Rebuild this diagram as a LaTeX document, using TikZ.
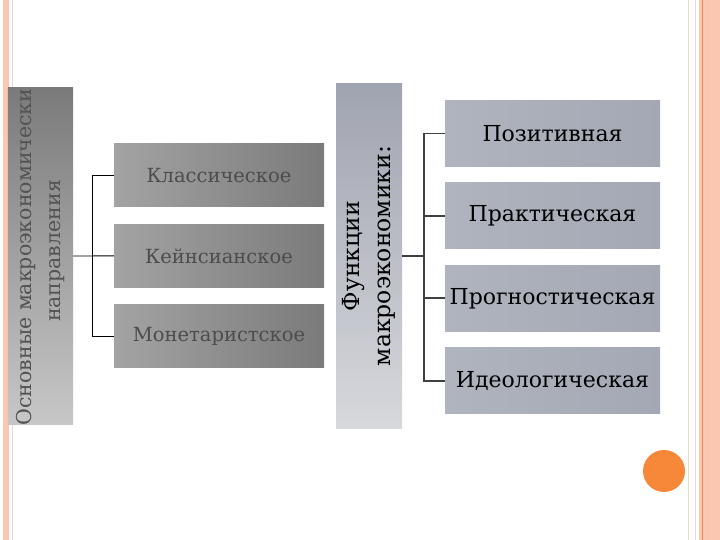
\documentclass[tikz,border=0pt]{standalone}
\usepackage{fontspec}
\setmainfont{DejaVu Serif}
\usepackage{xcolor}
\usetikzlibrary{positioning}

\definecolor{salmon}{RGB}{253,198,176}
\definecolor{salmonline}{RGB}{232,140,104}
\definecolor{paleline}{RGB}{238,214,200}
\definecolor{dotorange}{RGB}{247,136,58}
\newcommand{\funcfont}{\fontsize{22bp}{30bp}\selectfont}
\newcommand{\headfont}{\fontsize{23.5bp}{31bp}\selectfont}
\newcommand{\dirfont}{\fontsize{19.5bp}{29bp}\selectfont}
\newcommand{\leftfont}{\fontsize{20.5bp}{29bp}\selectfont}

\begin{document}
\begin{tikzpicture}[x=1bp, y=-1bp,
    greybox/.style={minimum width=210bp, minimum height=63bp, inner sep=0pt,
        left color=black!36, middle color=black!21, right color=black!52,
        text=black!70, font=\dirfont},
    bluebox/.style={minimum width=215bp, minimum height=66bp, inner sep=0pt,
        left color={rgb,255:red,176;green,180;blue,190},
        middle color={rgb,255:red,208;green,210;blue,216},
        right color={rgb,255:red,164;green,168;blue,180},
        text=black, font=\funcfont},
    tallbox/.style={minimum width=66bp, minimum height=344bp, inner sep=0pt},
    lefttie/.style={draw=black, line width=0.9bp},
    righttie/.style={draw=black!75, line width=1.6bp}]

    \useasboundingbox (0, 0) rectangle (720, 540);

    % slide frame
    \fill [salmon] (3, 0) rectangle (9, 540);
    \draw [paleline] (12, 0) -- (12, 540);
    \draw [paleline] (688, 0) -- (688, 540);
    \draw [paleline] (695, 0) -- (695, 540);
    \fill [salmon] (699, 0) rectangle (720, 540);
    \draw [salmonline] (702, 0) -- (702, 540);
    \draw [salmonline!50] (708, 0) -- (708, 540);

    % left block
    \node [tallbox, minimum width=65bp, minimum height=336bp,
        top color=black!52, bottom color=black!22] (dirs) at (40.5, 256) {};
    \begin{scope}
        \clip (dirs.north west) rectangle (dirs.south east);
        \node [rotate=90, align=center, text=black!68, font=\leftfont]
        (dirstext) at (40.5, 251) {Основные макроэкономические\\направления};
    \end{scope}

    \node [greybox] (klass) at (219, 175.5) {Классическое};
    \node [greybox, below=17bp of klass] (keyns) {Кейнсианское};
    \node [greybox, below=17bp of keyns] (monet) {Монетаристское};

    \draw [lefttie] (klass.west) -- ++(-21, 0) coordinate (lbus)
    |- (monet.west);
    \draw [lefttie] (dirs.east) -- (keyns.west);

    % right block
    \node [tallbox,
        top color={rgb,255:red,160;green,164;blue,176},
        bottom color={rgb,255:red,214;green,216;blue,220}]
    (func) at (369, 256) {};
    \node [rotate=90, align=center, font=\headfont]
    (functext) at (func) {Функции\\макроэкономики:};

    \node [bluebox] (poz) at (552.5, 133.5) {Позитивная};
    \node [bluebox, below=16bp of poz] (pract) {Практическая};
    \node [bluebox, below=16bp of pract] (progn) {Прогностическая};
    \node [bluebox, below=16bp of progn] (ideo) {Идеологическая};

    \draw [righttie] (poz.west) -- ++(-21, 0) coordinate (rbus)
    |- (ideo.west);
    \draw [righttie] (pract.west) -- (pract.west -| rbus);
    \draw [righttie] (progn.west) -- (progn.west -| rbus);
    \draw [righttie] (func.east) -- (func.east -| rbus);

    \fill [dotorange] (664, 471) circle [radius=21bp];

\end{tikzpicture}
\end{document}
